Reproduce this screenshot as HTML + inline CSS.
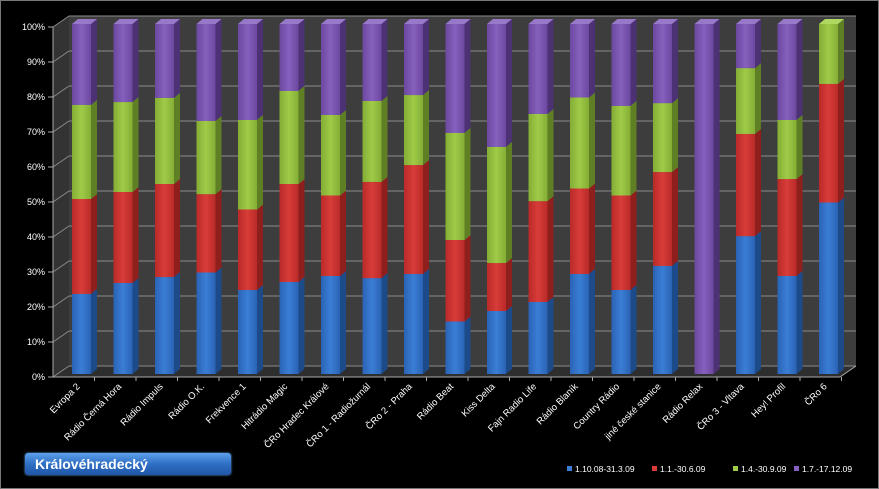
<!DOCTYPE html>
<html><head><meta charset="utf-8"><style>
html,body{margin:0;padding:0;background:#000;}
#c{position:relative;width:877px;height:487px;border:1px solid #777;background:#000;overflow:hidden}
svg{position:absolute;left:0;top:0}
text{font-family:"Liberation Sans",sans-serif;fill:#fff}
#title{position:absolute;left:24px;top:452px;width:206px;height:22px;border-radius:3px;
background:linear-gradient(#5da0ec,#2f6fc4 50%,#1f56a8);box-shadow:0 0 2px #6aa8f0;
color:#fff;font:bold 14px "Liberation Sans",sans-serif;line-height:22px;padding-left:10px;box-sizing:border-box}
</style></head><body><div id="c">
<svg id="s" width="877" height="487" xmlns="http://www.w3.org/2000/svg">
<defs>
<linearGradient id="gB" x1="0" x2="1"><stop offset="0" stop-color="#2a63b4"/><stop offset="0.5" stop-color="#3a7ed6"/><stop offset="1" stop-color="#2a63b4"/></linearGradient>
<linearGradient id="gR" x1="0" x2="1"><stop offset="0" stop-color="#b92a28"/><stop offset="0.5" stop-color="#d83c38"/><stop offset="1" stop-color="#b92a28"/></linearGradient>
<linearGradient id="gG" x1="0" x2="1"><stop offset="0" stop-color="#84ad35"/><stop offset="0.5" stop-color="#9fcb48"/><stop offset="1" stop-color="#84ad35"/></linearGradient>
<linearGradient id="gP" x1="0" x2="1"><stop offset="0" stop-color="#6c48a0"/><stop offset="0.5" stop-color="#8660bd"/><stop offset="1" stop-color="#6c48a0"/></linearGradient>
</defs>
<polygon points="68,15 855,15 855,365 68,365" fill="#3d3d3d"/>
<polygon points="52,26 68,15 68,365 52,376" fill="#333"/>
<polygon points="52,376 68,365 855,365 839,376" fill="#2e2e2e"/>
<g id="g"></g>
</svg>
<div id="title">Královéhradecký</div>
</div>
<script>
var s=document.getElementById('g'),h='';
for(var i=0;i<=10;i++){var yb=365-35*i,yf=376-35*i;
 h+='<line x1="68" y1="'+yb+'" x2="855" y2="'+yb+'" stroke="#8a8a8a" stroke-width="1"/>';
 h+='<line x1="52" y1="'+yf+'" x2="68" y2="'+yb+'" stroke="#8a8a8a"/>';
 h+='<line x1="47" y1="'+yf+'" x2="52" y2="'+yf+'" stroke="#aaa"/>';
 h+='<text x="44" y="'+(yf+3)+'" text-anchor="end" style="font-size:9px">'+(i*10)+'%</text>';}
h+='<line x1="52" y1="26" x2="52" y2="376" stroke="#aaa"/><line x1="52" y1="376" x2="839" y2="376" stroke="#aaa"/><line x1="839" y1="376" x2="855" y2="365" stroke="#aaa"/>';
var names=["Evropa 2","Rádio Černá Hora","Rádio Impuls","Rádio O.K.","Frekvence 1","Hitrádio Magic","ČRo Hradec Králové","ČRo 1 - Radiožurnál","ČRo 2 - Praha","Rádio Beat","Kiss Delta","Fajn Radio Life","Rádio Blaník","Country Rádio","jiné české stanice","Rádio Relax","ČRo 3 - Vltava","Hey! Profil","ČRo 6"];
var d=[[22.9,50,76.9],[26,52,77.7],[27.7,54.3,78.9],[29,51.4,72.3],[24,47,72.6],[26.3,54.3,80.9],[28,51,74],[27.4,54.9,78],[28.6,59.7,79.7],[15,38.3,68.9],[18,31.7,64.9],[20.6,49.4,74.3],[28.6,53,79],[24,51,76.6],[30.9,57.7,77.4],[0,0,0],[39.4,68.6,87.4],[28,55.7,72.6],[49,82.9,100]];
var fill=['url(#gB)','url(#gR)','url(#gG)','url(#gP)'],side=['#1d4a88','#8e1f1d','#5f7f24','#4c3275'],top_=['#4a8ae0','#e05a55','#b0d860','#9878c8'];
for(var k=0;k<19;k++){var x=71+k*41.5,w=19,b=[0].concat(d[k]).concat([100]);
 for(var j=0;j<4;j++){var y0=373-3.5*b[j],y1=373-3.5*b[j+1];if(y0-y1<0.1)continue;
  h+='<rect x="'+x+'" y="'+y1+'" width="'+w+'" height="'+(y0-y1)+'" fill="'+fill[j]+'"/>';
  h+='<polygon points="'+(x+w)+','+y1+' '+(x+w+6)+','+(y1-5)+' '+(x+w+6)+','+(y0-5)+' '+(x+w)+','+y0+'" fill="'+side[j]+'"/>';
  if(b[j+1]>=99.9||j==3) h+='<polygon points="'+x+','+y1+' '+(x+6)+','+(y1-5)+' '+(x+w+6)+','+(y1-5)+' '+(x+w)+','+y1+'" fill="'+top_[j]+'"/>';
  else h+='<polygon points="'+x+','+y1+' '+(x+6)+','+(y1-5)+' '+(x+w+6)+','+(y1-5)+' '+(x+w)+','+y1+'" fill="'+top_[j+1]+'" opacity="0.6"/>';}
 var tx=x+w/2-1;
 h+='<line x1="'+(52+41.5*(k+1))+'" y1="376" x2="'+(52+41.5*(k+1))+'" y2="380" stroke="#aaa"/>';
 h+='<text transform="translate('+tx+',386) rotate(-45)" text-anchor="end" style="font-size:9.5px">'+names[k]+'</text>';}
var lg=[["1.10.08-31.3.09",566,'#3a7ed6'],["1.1.-30.6.09",651,'#d83c38'],["1.4.-30.9.09",732,'#9fcb48'],["1.7.-17.12.09",793,'#8660bd']];
lg.forEach(function(l){h+='<rect x="'+l[1]+'" y="465" width="5" height="5" fill="'+l[2]+'"/><text x="'+(l[1]+8)+'" y="471" style="font-size:8.5px">'+l[0]+'</text>';});
s.innerHTML=h;
</script>
</body></html>
